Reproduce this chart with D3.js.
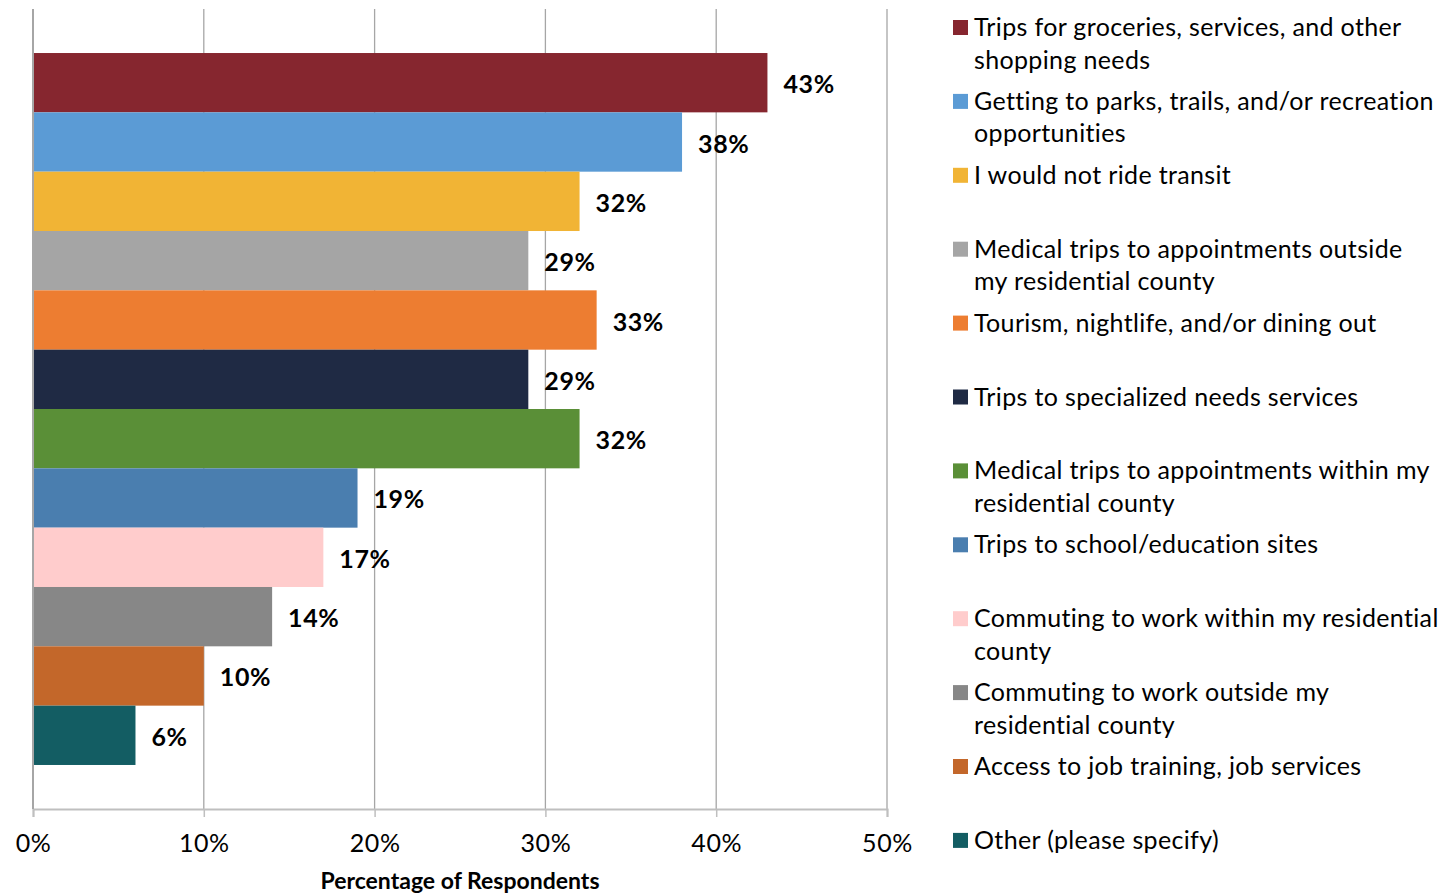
<!DOCTYPE html>
<html>
<head>
<meta charset="utf-8">
<script src="https://cdn.jsdelivr.net/npm/d3@7"></script>
<style>
  html, body { margin: 0; padding: 0; background: #fff; }
  svg { display: block; }
</style>
</head>
<body>
<svg id="chart" width="1444" height="895"></svg>
<script>
// Trip purposes (legend text, with its line breaks) and share of respondents
const categories = [
  "Trips for groceries, services, and other\nshopping needs",
  "Getting to parks, trails, and/or recreation\nopportunities",
  "I would not ride transit",
  "Medical trips to appointments outside\nmy residential county",
  "Tourism, nightlife, and/or dining out",
  "Trips to specialized needs services",
  "Medical trips to appointments within my\nresidential county",
  "Trips to school/education sites",
  "Commuting to work within my residential\ncounty",
  "Commuting to work outside my\nresidential county",
  "Access to job training, job services",
  "Other (please specify)"
];
const values = [43, 38, 32, 29, 33, 29, 32, 19, 17, 14, 10, 6];
const colors = [
  "#86262f", "#5b9bd5", "#f1b435", "#a5a5a5", "#ed7d31", "#1f2a44",
  "#5a8f37", "#4a7eaf", "#ffcccc", "#878787", "#c3672a", "#135d63"
];
const xTicks = [0, 10, 20, 30, 40, 50];
const xTitle = "Percentage of Respondents";

const svg = d3.select("#chart");
const plot = { left: 33, right: 887, top: 9, bottom: 809 };

const x = d3.scaleLinear().domain([0, 50]).range([plot.left, plot.right]);
const y = d3.scaleBand()
  .domain(categories)
  .range([plot.top, plot.bottom])
  .paddingInner(0)
  .paddingOuter(0.742);

// vertical gridlines
svg.append("g")
  .selectAll("line")
  .data(xTicks)
  .join("line")
  .attr("x1", d => x(d)).attr("x2", d => x(d))
  .attr("y1", plot.top).attr("y2", plot.bottom)
  .attr("stroke", "#a6a6a6")
  .attr("stroke-width", 1.3);

// bars
svg.append("g")
  .selectAll("rect")
  .data(values)
  .join("rect")
  .attr("x", x(0))
  .attr("y", (d, i) => y(categories[i]))
  .attr("width", d => x(d) - x(0))
  .attr("height", y.bandwidth())
  .attr("fill", (d, i) => colors[i]);

// value labels
svg.append("g")
  .selectAll("text")
  .data(values)
  .join("text")
  .attr("x", d => x(d) + 16)
  .attr("y", (d, i) => y(categories[i]) + y.bandwidth() / 2)
  .attr("dy", "0.42em")
  .attr("font-family", "Lato, 'Open Sans', sans-serif")
  .attr("font-weight", 700)
  .attr("font-size", 25)
  .attr("letter-spacing", 0.6)
  .attr("fill", "#000")
  .text(d => d + "%");

// x axis
const xAxis = d3.axisBottom(x)
  .tickValues(xTicks)
  .tickFormat(d => d + "%")
  .tickSize(8)
  .tickPadding(17);
const gx = svg.append("g")
  .attr("transform", `translate(0,${plot.bottom})`)
  .call(xAxis);
gx.select(".domain").attr("stroke", "#bfbfbf").attr("stroke-width", 2);
gx.selectAll(".tick line").attr("stroke", "#bfbfbf").attr("stroke-width", 1.5);
gx.selectAll(".tick text")
  .attr("font-family", "Lato, 'Open Sans', sans-serif")
  .attr("font-size", 25)
  .attr("letter-spacing", 0.6)
  .attr("fill", "#000");

// left axis line
svg.append("line")
  .attr("x1", plot.left).attr("x2", plot.left)
  .attr("y1", plot.top).attr("y2", plot.bottom)
  .attr("stroke", "#a6a6a6")
  .attr("stroke-width", 2);

svg.append("text")
  .attr("x", (plot.left + plot.right) / 2)
  .attr("y", 889)
  .attr("text-anchor", "middle")
  .attr("font-family", "Lato, 'Open Sans', sans-serif")
  .attr("font-weight", 700)
  .attr("font-size", 23)
  .attr("fill", "#000")
  .text(xTitle);

// legend
const legendTop = 27, legendStep = 73.9, lineH = 32.5;
const legend = svg.append("g")
  .selectAll("g")
  .data(categories)
  .join("g")
  .attr("transform", (d, i) => `translate(953,${legendTop + i * legendStep})`);

legend.append("rect")
  .attr("x", 0).attr("y", -7)
  .attr("width", 15).attr("height", 15)
  .attr("fill", (d, i) => colors[i]);

legend.append("text")
  .attr("font-family", "Lato, 'Open Sans', sans-serif")
  .attr("font-size", 25)
  .attr("letter-spacing", 0.35)
  .attr("fill", "#000")
  .selectAll("tspan")
  .data(d => d.split("\n"))
  .join("tspan")
  .attr("x", 21)
  .attr("y", (d, j) => j * lineH)
  .attr("dy", "0.36em")
  .text(d => d);
</script>
</body>
</html>
